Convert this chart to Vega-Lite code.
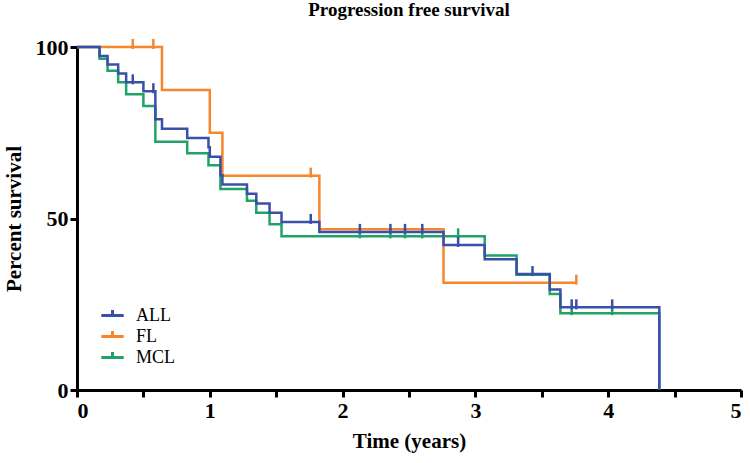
{
  "$schema": "https://vega.github.io/schema/vega-lite/v6.json",
  "autosize": "none",
  "width": 664,
  "height": 343,
  "padding": {"left": 77, "top": 47, "right": 9, "bottom": 73},
  "background": "white",
  "title": {"text": "Progression free survival", "font": "Liberation Serif", "fontSize": 19, "fontWeight": "bold", "color": "black", "anchor": "middle", "offset": 16},
  "datasets": {
    "curves": [
      {"group": "ALL", "t": 0, "s": 100},
      {"group": "ALL", "t": 0.17, "s": 97.4},
      {"group": "ALL", "t": 0.23, "s": 94.9},
      {"group": "ALL", "t": 0.31, "s": 92.3},
      {"group": "ALL", "t": 0.37, "s": 89.7},
      {"group": "ALL", "t": 0.5, "s": 87.1},
      {"group": "ALL", "t": 0.59, "s": 78.9},
      {"group": "ALL", "t": 0.64, "s": 76.2},
      {"group": "ALL", "t": 0.83, "s": 73.5},
      {"group": "ALL", "t": 0.99, "s": 70.8},
      {"group": "ALL", "t": 1.0, "s": 68.0},
      {"group": "ALL", "t": 1.08, "s": 62.6},
      {"group": "ALL", "t": 1.095, "s": 59.9},
      {"group": "ALL", "t": 1.28, "s": 57.2},
      {"group": "ALL", "t": 1.35, "s": 54.4},
      {"group": "ALL", "t": 1.45, "s": 51.7},
      {"group": "ALL", "t": 1.54, "s": 49.0},
      {"group": "ALL", "t": 1.825, "s": 46.1},
      {"group": "ALL", "t": 2.76, "s": 42.3},
      {"group": "ALL", "t": 3.07, "s": 38.1},
      {"group": "ALL", "t": 3.31, "s": 33.8},
      {"group": "ALL", "t": 3.56, "s": 29.3},
      {"group": "ALL", "t": 3.64, "s": 24.1},
      {"group": "ALL", "t": 4.385, "s": 0},
      {"group": "FL", "t": 0, "s": 100},
      {"group": "FL", "t": 0.64, "s": 87.5},
      {"group": "FL", "t": 1.0, "s": 75},
      {"group": "FL", "t": 1.095, "s": 62.5},
      {"group": "FL", "t": 1.825, "s": 46.9},
      {"group": "FL", "t": 2.76, "s": 31.3},
      {"group": "FL", "t": 3.76, "s": 31.3},
      {"group": "MCL", "t": 0, "s": 100},
      {"group": "MCL", "t": 0.17, "s": 96.6},
      {"group": "MCL", "t": 0.23, "s": 93.1},
      {"group": "MCL", "t": 0.31, "s": 89.7},
      {"group": "MCL", "t": 0.37, "s": 86.2},
      {"group": "MCL", "t": 0.5, "s": 82.8},
      {"group": "MCL", "t": 0.59, "s": 72.4},
      {"group": "MCL", "t": 0.83, "s": 69.0},
      {"group": "MCL", "t": 0.99, "s": 65.5},
      {"group": "MCL", "t": 1.08, "s": 58.6},
      {"group": "MCL", "t": 1.28, "s": 55.2},
      {"group": "MCL", "t": 1.35, "s": 51.7},
      {"group": "MCL", "t": 1.45, "s": 48.3},
      {"group": "MCL", "t": 1.54, "s": 44.8},
      {"group": "MCL", "t": 3.07, "s": 39.2},
      {"group": "MCL", "t": 3.31, "s": 33.6},
      {"group": "MCL", "t": 3.56, "s": 28.0},
      {"group": "MCL", "t": 3.64, "s": 22.4},
      {"group": "MCL", "t": 4.385, "s": 0}
    ],
    "censors": [
      {"group": "MCL", "t": 2.13, "s": 44.8},
      {"group": "MCL", "t": 2.36, "s": 44.8},
      {"group": "MCL", "t": 2.47, "s": 44.8},
      {"group": "MCL", "t": 2.6, "s": 44.8},
      {"group": "MCL", "t": 2.87, "s": 44.8},
      {"group": "MCL", "t": 3.725, "s": 22.4},
      {"group": "MCL", "t": 4.03, "s": 22.4},
      {"group": "FL", "t": 0.42, "s": 100},
      {"group": "FL", "t": 0.575, "s": 100},
      {"group": "FL", "t": 1.76, "s": 62.5},
      {"group": "FL", "t": 3.76, "s": 31.3},
      {"group": "ALL", "t": 0.42, "s": 89.7},
      {"group": "ALL", "t": 0.575, "s": 87.1},
      {"group": "ALL", "t": 1.76, "s": 49.0},
      {"group": "ALL", "t": 2.13, "s": 46.1},
      {"group": "ALL", "t": 2.36, "s": 46.1},
      {"group": "ALL", "t": 2.47, "s": 46.1},
      {"group": "ALL", "t": 2.6, "s": 46.1},
      {"group": "ALL", "t": 2.87, "s": 42.3},
      {"group": "ALL", "t": 3.43, "s": 33.8},
      {"group": "ALL", "t": 3.725, "s": 24.1},
      {"group": "ALL", "t": 3.76, "s": 24.1},
      {"group": "ALL", "t": 4.03, "s": 24.1}
    ]
  },
  "encoding": {
    "x": {"field": "t", "type": "quantitative", "scale": {"domain": [0, 5], "nice": false},
      "axis": {"title": "Time (years)", "values": [0, 0.5, 1, 1.5, 2, 2.5, 3, 3.5, 4, 4.5, 5], "format": ".0f", "labelExpr": "datum.value % 1 === 0 ? datum.label : ''", "labelPadding": 3, "titlePadding": 9}},
    "y": {"field": "s", "type": "quantitative", "scale": {"domain": [0, 100], "nice": false},
      "axis": {"title": "Percent survival", "values": [0, 50, 100], "labelPadding": 2, "titlePadding": 11}},
    "color": {"field": "group", "type": "nominal",
      "scale": {"domain": ["ALL", "FL", "MCL"], "range": ["#3a4fa8", "#f7862c", "#1fa366"]},
      "legend": {"orient": "none", "legendX": 26, "legendY": 259, "title": null,
        "symbolType": "M-1.4,0H1.4M0,0V-0.7", "symbolSize": 256, "symbolStrokeWidth": 3, "symbolFillColor": "transparent", "symbolOpacity": 1,
        "labelFont": "Liberation Serif", "labelFontSize": 18, "labelColor": "black", "labelOffset": 14, "rowPadding": -1, "padding": 0}}
  },
  "layer": [
    {"data": {"name": "curves"}, "transform": [{"filter": "datum.group === 'MCL'"}],
     "mark": {"type": "line", "interpolate": "step-after", "strokeWidth": 2.5}},
    {"data": {"name": "curves"}, "transform": [{"filter": "datum.group === 'FL'"}],
     "mark": {"type": "line", "interpolate": "step-after", "strokeWidth": 2.5}},
    {"data": {"name": "curves"}, "transform": [{"filter": "datum.group === 'ALL'"}],
     "mark": {"type": "line", "interpolate": "step-after", "strokeWidth": 2.5}},
    {"data": {"name": "censors"}, "transform": [{"filter": "datum.group !== 'ALL'"}],
     "mark": {"type": "tick", "orient": "vertical", "size": 10, "thickness": 2.5, "yOffset": -3, "opacity": 1}},
    {"data": {"name": "censors"}, "transform": [{"filter": "datum.group === 'ALL'"}],
     "mark": {"type": "tick", "orient": "vertical", "size": 10, "thickness": 2.5, "yOffset": -3, "opacity": 1}}
  ],
  "config": {
    "view": {"stroke": null},
    "axis": {"grid": false, "domainColor": "black", "domainWidth": 3, "tickColor": "black", "tickWidth": 3, "tickSize": 7,
      "labelFont": "Liberation Serif", "labelFontSize": 22, "labelFontWeight": "bold", "labelColor": "black",
      "titleFont": "Liberation Serif", "titleFontSize": 21, "titleFontWeight": "bold", "titleColor": "black"}
  }
}
